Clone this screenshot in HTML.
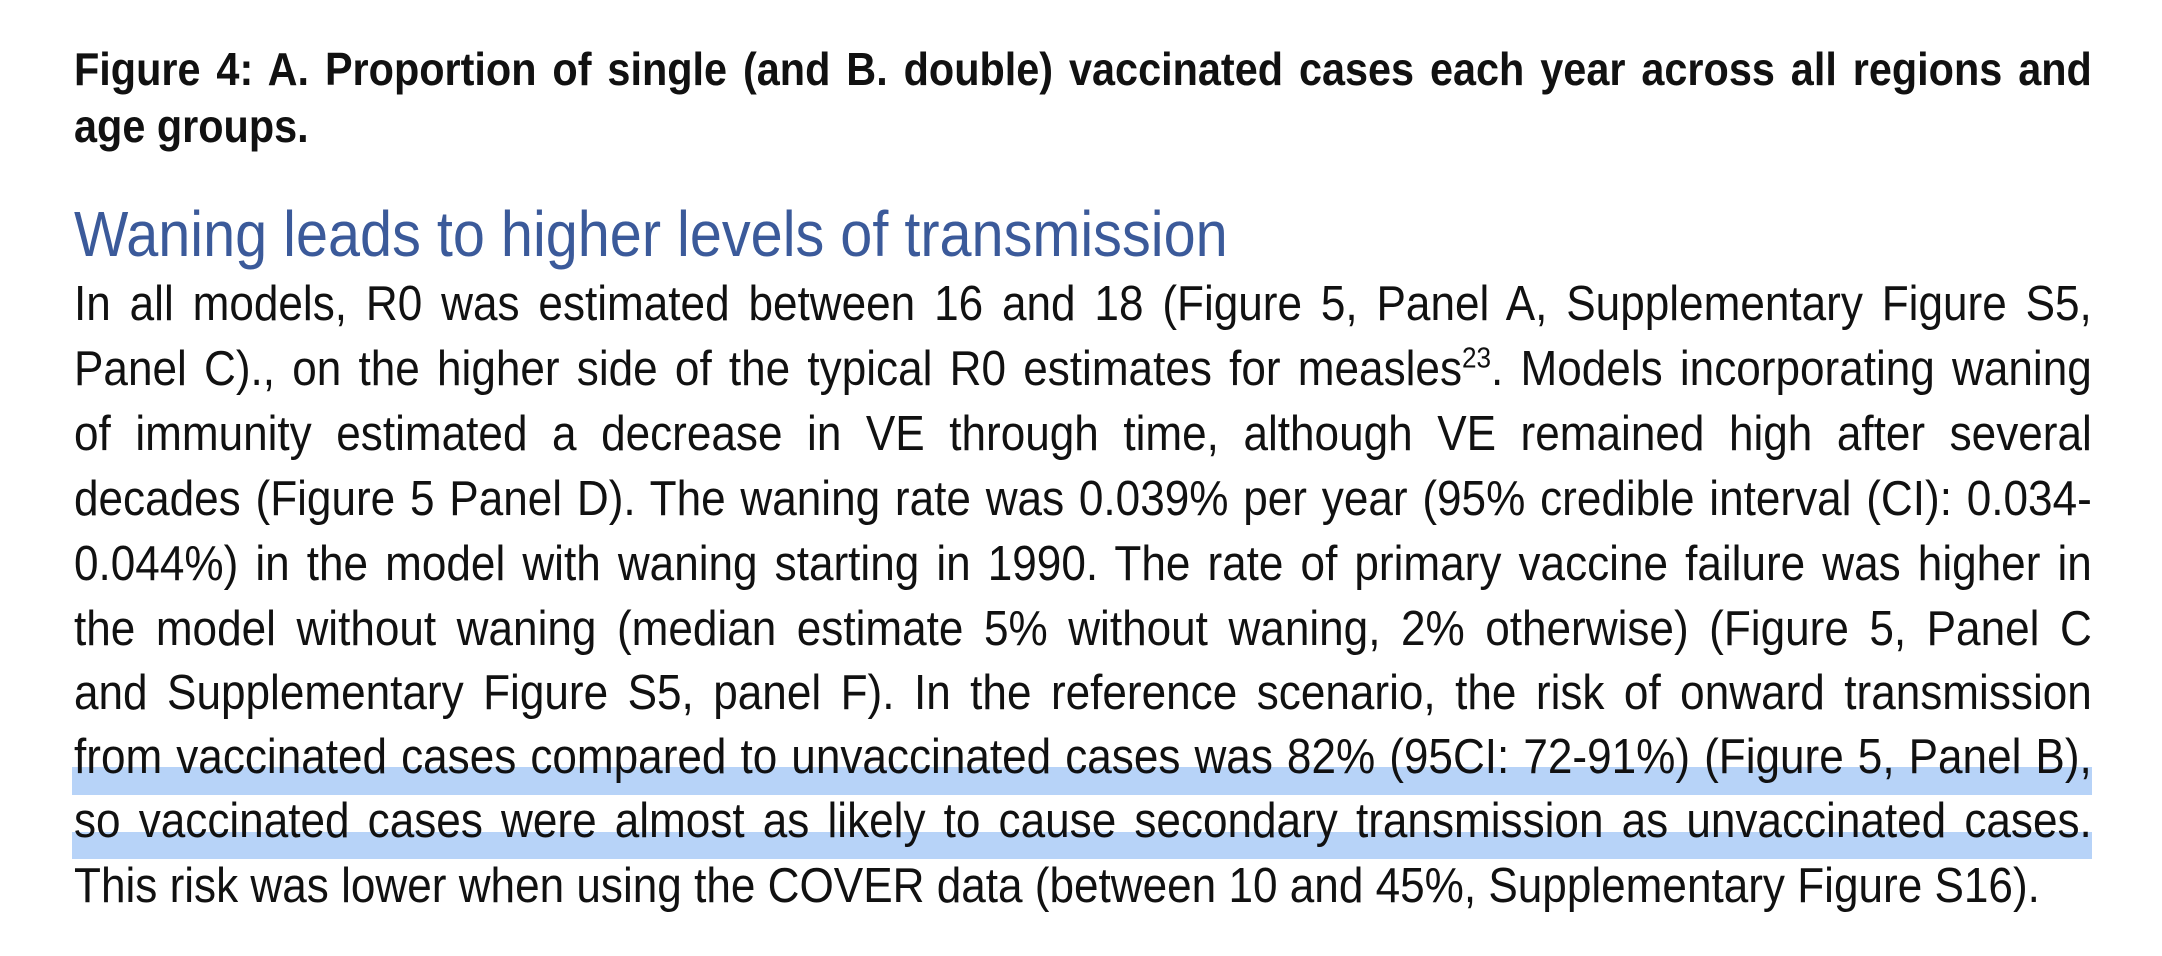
<!DOCTYPE html>
<html><head><meta charset="utf-8"><style>
html,body{margin:0;padding:0;background:#fff;width:2162px;height:956px;overflow:hidden;position:relative}
.l{position:absolute;left:74px;white-space:nowrap;text-align:justify;text-align-last:justify;font-family:"Liberation Sans",sans-serif;color:#111;transform-origin:0 50%;transform:scaleX(0.9)}
.t{font-weight:bold;font-size:46px;height:60px;line-height:60px}
.b{font-size:49px;height:60px;line-height:60px;width:2242px}
.h{font-size:64px;color:#3b5a9a;height:70px;line-height:70px;text-align:left;text-align-last:left}
.hl{position:absolute;left:72px;width:2020px;background:#b7d3f8}
</style></head><body>
<div class="hl" style="top:767px;height:28px"></div>
<div class="hl" style="top:832px;height:27px"></div>
<div class="l t" style="top:39px;width:2242px">Figure 4: A. Proportion of single (and B. double) vaccinated cases each year across all regions and</div>
<div class="l t" style="top:96px;width:256px">age groups.</div>
<div class="l h" style="top:199px">Waning leads to higher levels of transmission</div>
<div class="l b" style="top:274px">In all models, R0 was estimated between 16 and 18 (Figure 5, Panel A, Supplementary Figure S5,</div>
<div class="l b" style="top:339px">Panel C)., on the higher side of the typical R0 estimates for measles<sup style="font-size:29px;line-height:0">23</sup>. Models incorporating waning</div>
<div class="l b" style="top:404px">of immunity estimated a decrease in VE through time, although VE remained high after several</div>
<div class="l b" style="top:469px">decades (Figure 5 Panel D). The waning rate was 0.039% per year (95% credible interval (CI): 0.034-</div>
<div class="l b" style="top:534px">0.044%) in the model with waning starting in 1990. The rate of primary vaccine failure was higher in</div>
<div class="l b" style="top:599px">the model without waning (median estimate 5% without waning, 2% otherwise) (Figure 5, Panel C</div>
<div class="l b" style="top:663px">and Supplementary Figure S5, panel F). In the reference scenario, the risk of onward transmission</div>
<div class="l b" style="top:727px">from vaccinated cases compared to unvaccinated cases was 82% (95CI: 72-91%) (Figure 5, Panel B),</div>
<div class="l b" style="top:791px">so vaccinated cases were almost as likely to cause secondary transmission as unvaccinated cases.</div>
<div class="l b" style="top:856px;width:2173px">This risk was lower when using the COVER data (between 10 and 45%, Supplementary Figure S16).</div>
</body></html>
